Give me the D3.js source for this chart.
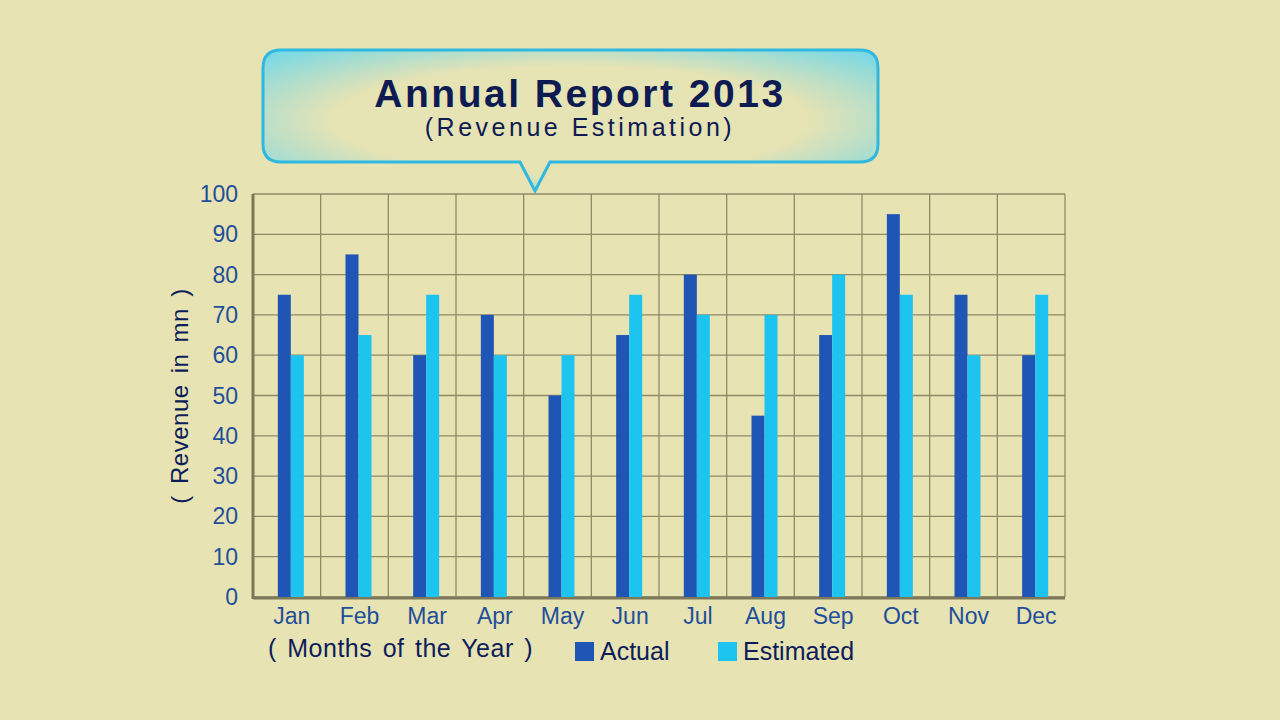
<!DOCTYPE html>
<html><head><meta charset="utf-8">
<script src="https://cdn.jsdelivr.net/npm/d3@7"></script>
<style>body{margin:0;background:#e8e3b3;}svg{display:block;}</style>
</head><body><div id="chart"></div>
<script>
const months = ['Jan','Feb','Mar','Apr','May','Jun','Jul','Aug','Sep','Oct','Nov','Dec'];
const actual = [75, 85, 60, 70, 50, 65, 80, 45, 65, 95, 75, 60];
const estimated = [60, 65, 75, 60, 60, 75, 70, 70, 80, 75, 60, 75];
const yTicks = [0,10,20,30,40,50,60,70,80,90,100];

const width = 1280, height = 720;
const margin = {top: 194, right: 215, bottom: 123, left: 253};

const svg = d3.select('#chart').append('svg')
  .attr('width', width).attr('height', height);

svg.append('rect').attr('width', width).attr('height', height).attr('fill', '#e8e3b3');

const x = d3.scaleBand().domain(months)
  .range([margin.left, width - margin.right]);
const y = d3.scaleLinear().domain([0, 100])
  .range([height - margin.bottom, margin.top]);

// grid
const grid = svg.append('g').attr('stroke', '#8f8a66').attr('stroke-width', 1.3);
grid.selectAll('.h').data(yTicks).join('line')
  .attr('x1', margin.left).attr('x2', width - margin.right)
  .attr('y1', d => y(d)).attr('y2', d => y(d));
grid.selectAll('.v').data(months.concat(['end'])).join('line')
  .attr('x1', (d, i) => margin.left + i * x.bandwidth())
  .attr('x2', (d, i) => margin.left + i * x.bandwidth())
  .attr('y1', margin.top).attr('y2', height - margin.bottom);
svg.append('line').attr('stroke', '#7d785a').attr('stroke-width', 3)
  .attr('x1', margin.left).attr('x2', width - margin.right)
  .attr('y1', y(0) + 1).attr('y2', y(0) + 1);
svg.append('line').attr('stroke', '#7d785a').attr('stroke-width', 3)
  .attr('x1', margin.left).attr('x2', margin.left)
  .attr('y1', margin.top).attr('y2', y(0) + 2);

// bars
const bw = 13;
svg.append('g').selectAll('rect').data(actual).join('rect')
  .attr('x', (d, i) => x(months[i]) + x.bandwidth() / 2 - bw + 4)
  .attr('y', d => y(d)).attr('width', bw).attr('height', d => y(0) - y(d))
  .attr('fill', '#1f55b4');
svg.append('g').selectAll('rect').data(estimated).join('rect')
  .attr('x', (d, i) => x(months[i]) + x.bandwidth() / 2 + 4)
  .attr('y', d => y(d)).attr('width', bw).attr('height', d => y(0) - y(d))
  .attr('fill', '#1ec4f0');

// axes labels
const font = 'Liberation Sans, Arial, sans-serif';
svg.append('g').selectAll('text').data(yTicks).join('text')
  .attr('x', 238).attr('y', d => y(d)).attr('dy', '0.35em')
  .attr('text-anchor', 'end').attr('font-family', font).attr('font-size', 23)
  .attr('fill', '#1f4f9a').text(d => d);
svg.append('g').selectAll('text').data(months).join('text')
  .attr('x', d => x(d) + x.bandwidth() / 2 + 5).attr('y', 624)
  .attr('text-anchor', 'middle').attr('font-family', font).attr('font-size', 23)
  .attr('fill', '#1f4f9a').text(d => d);
svg.append('text').attr('transform', 'translate(188,396) rotate(-90)')
  .attr('text-anchor', 'middle').attr('font-family', font).attr('font-size', 24)
  .attr('fill', '#0d1d5a').attr('word-spacing', 4).attr('letter-spacing', 0.5).text('( Revenue in mn )');
svg.append('text').attr('x', 268).attr('y', 657)
  .attr('font-family', font).attr('font-size', 25).attr('letter-spacing', 0.5)
  .attr('word-spacing', 3).attr('fill', '#0d1d5a').text('( Months of the Year )');

// legend
const legend = [['Actual', '#1f55b4', 575], ['Estimated', '#1ec4f0', 718]];
legend.forEach(([t, c, lx]) => {
  svg.append('rect').attr('x', lx).attr('y', 642).attr('width', 19).attr('height', 19).attr('fill', c);
  svg.append('text').attr('x', lx + 25).attr('y', 660).attr('font-family', font)
    .attr('font-size', 25).attr('fill', '#0d1d5a').text(t);
});

// callout
const defs = svg.append('defs');
const grad = defs.append('radialGradient').attr('id', 'g1').attr('cx', '50%').attr('cy', '50%').attr('r', '70%');
grad.append('stop').attr('offset', '55%').attr('stop-color', '#e6e3b4');
grad.append('stop').attr('offset', '100%').attr('stop-color', '#6fd8ea');
const bx0 = 263, bx1 = 878, by0 = 50, by1 = 162, r = 18;
svg.append('path')
  .attr('d', `M${bx0 + r},${by0} H${bx1 - r} Q${bx1},${by0} ${bx1},${by0 + r} V${by1 - r} Q${bx1},${by1} ${bx1 - r},${by1}
    H550 L535,191 L520,${by1} H${bx0 + r} Q${bx0},${by1} ${bx0},${by1 - r} V${by0 + r} Q${bx0},${by0} ${bx0 + r},${by0} Z`)
  .attr('fill', 'url(#g1)').attr('stroke', '#2fb8e0').attr('stroke-width', 3);
svg.append('text').attr('x', 580).attr('y', 107).attr('text-anchor', 'middle')
  .attr('font-family', font).attr('font-weight', 'bold').attr('font-size', 39)
  .attr('letter-spacing', 2.5).attr('fill', '#0e1a52').text('Annual Report 2013');
svg.append('text').attr('x', 580).attr('y', 136).attr('text-anchor', 'middle')
  .attr('font-family', font).attr('font-size', 25).attr('letter-spacing', 3.5)
  .attr('fill', '#0e1a52').text('(Revenue Estimation)');
</script></body></html>
